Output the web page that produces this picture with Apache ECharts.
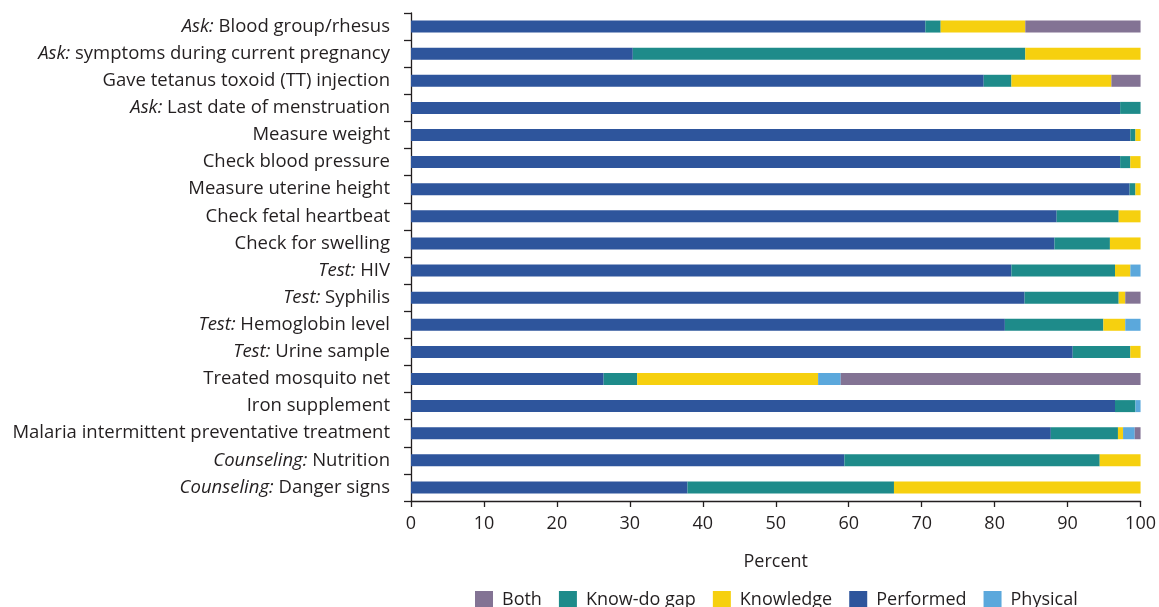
<!DOCTYPE html>
<html>
<head>
<meta charset="utf-8">
<script src="https://cdn.jsdelivr.net/npm/echarts@6/dist/echarts.min.js"></script>
<style>
html,body{margin:0;padding:0;background:#fff;}
#chart{width:1159px;height:607px;}
</style>
</head>
<body>
<div id="chart"></div>
<script>
var categories = [
  "Ask: Blood group/rhesus",
  "Ask: symptoms during current pregnancy",
  "Gave tetanus toxoid (TT) injection",
  "Ask: Last date of menstruation",
  "Measure weight",
  "Check blood pressure",
  "Measure uterine height",
  "Check fetal heartbeat",
  "Check for swelling",
  "Test: HIV",
  "Test: Syphilis",
  "Test: Hemoglobin level",
  "Test: Urine sample",
  "Treated mosquito net",
  "Iron supplement",
  "Malaria intermittent preventative treatment",
  "Counseling: Nutrition",
  "Counseling: Danger signs"
];
var performed = [70.5, 30.4, 78.5, 97.2, 98.6, 97.2, 98.5, 88.5, 88.2, 82.3, 84.1, 81.4, 90.7, 26.4, 96.5, 87.7, 59.4, 37.9];
var knowDoGap = [2.1, 53.8, 3.8, 2.8, 0.7, 1.4, 0.8, 8.5, 7.6, 14.2, 12.9, 13.5, 7.9, 4.6, 2.8, 9.2, 35.0, 28.3];
var knowledge = [11.6, 15.8, 13.7, 0, 0.7, 1.4, 0.7, 3.0, 4.2, 2.1, 0.9, 3.0, 1.4, 24.8, 0, 0.7, 5.6, 33.8];
var physical = [0, 0, 0, 0, 0, 0, 0, 0, 0, 1.4, 0, 2.1, 0, 3.1, 0.7, 1.6, 0, 0];
var both = [15.8, 0, 4.0, 0, 0, 0, 0, 0, 0, 0, 2.1, 0, 0, 41.1, 0, 0.8, 0, 0];
var xTicks = [0, 10, 20, 30, 40, 50, 60, 70, 80, 90, 100];
var legendOrder = ["Both", "Know-do gap", "Knowledge", "Performed", "Physical"];

var FONT = "'Open Sans', 'Noto Sans', sans-serif";
var colors = {
  "Performed": "#2E559C",
  "Know-do gap": "#1E8B8A",
  "Knowledge": "#F6D00F",
  "Physical": "#5BA8DC",
  "Both": "#837394"
};

function mkSeries(name, data) {
  return {
    name: name,
    type: 'bar',
    stack: 'total',
    barWidth: 12,
    data: data,
    itemStyle: { color: colors[name] },
    emphasis: { disabled: true }
  };
}

var chart = echarts.init(document.getElementById('chart'), null, { renderer: 'canvas' });
chart.setOption({
  animation: false,
  backgroundColor: '#fff',
  textStyle: { fontFamily: FONT },
  grid: { left: 411, right: 18, top: 13, bottom: 106, containLabel: false },
  legend: {
    data: legendOrder,
    left: 470,
    top: 586,
    itemWidth: 18,
    itemHeight: 18,
    itemGap: 17,
    icon: 'rect',
    textStyle: { fontFamily: FONT, fontSize: 18, color: '#231F20', padding: [0, 0, 0, 4] }
  },
  xAxis: {
    type: 'value',
    min: 0,
    max: 100,
    interval: 10,
    name: 'Percent',
    nameLocation: 'middle',
    nameGap: 52,
    nameTextStyle: { fontFamily: FONT, fontSize: 18, color: '#231F20' },
    axisLine: { show: true, lineStyle: { color: '#231F20', width: 1.3 } },
    axisTick: { show: true, length: 6, lineStyle: { color: '#231F20', width: 1.3 } },
    axisLabel: {
      fontFamily: FONT, fontSize: 18, color: '#231F20', margin: 14,
      formatter: function (v) { return xTicks.indexOf(v) >= 0 ? String(v) : ''; }
    },
    splitLine: { show: false }
  },
  yAxis: {
    type: 'category',
    inverse: true,
    data: categories,
    axisLine: { show: true, lineStyle: { color: '#231F20', width: 1.3 } },
    axisTick: { show: true, length: 7, lineStyle: { color: '#231F20', width: 1.3 } },
    axisLabel: {
      fontFamily: FONT, fontSize: 18.5, color: '#231F20', margin: 21,
      formatter: function (v) {
        var m = v.match(/^(Ask|Test|Counseling):\s(.*)$/);
        if (m) { return '{i|' + m[1] + ':} ' + m[2]; }
        return v;
      },
      rich: {
        i: { fontFamily: FONT, fontSize: 18.5, fontStyle: 'italic', color: '#231F20' }
      }
    }
  },
  series: [
    mkSeries('Performed', performed),
    mkSeries('Know-do gap', knowDoGap),
    mkSeries('Knowledge', knowledge),
    mkSeries('Physical', physical),
    mkSeries('Both', both)
  ]
});
</script>
</body>
</html>
